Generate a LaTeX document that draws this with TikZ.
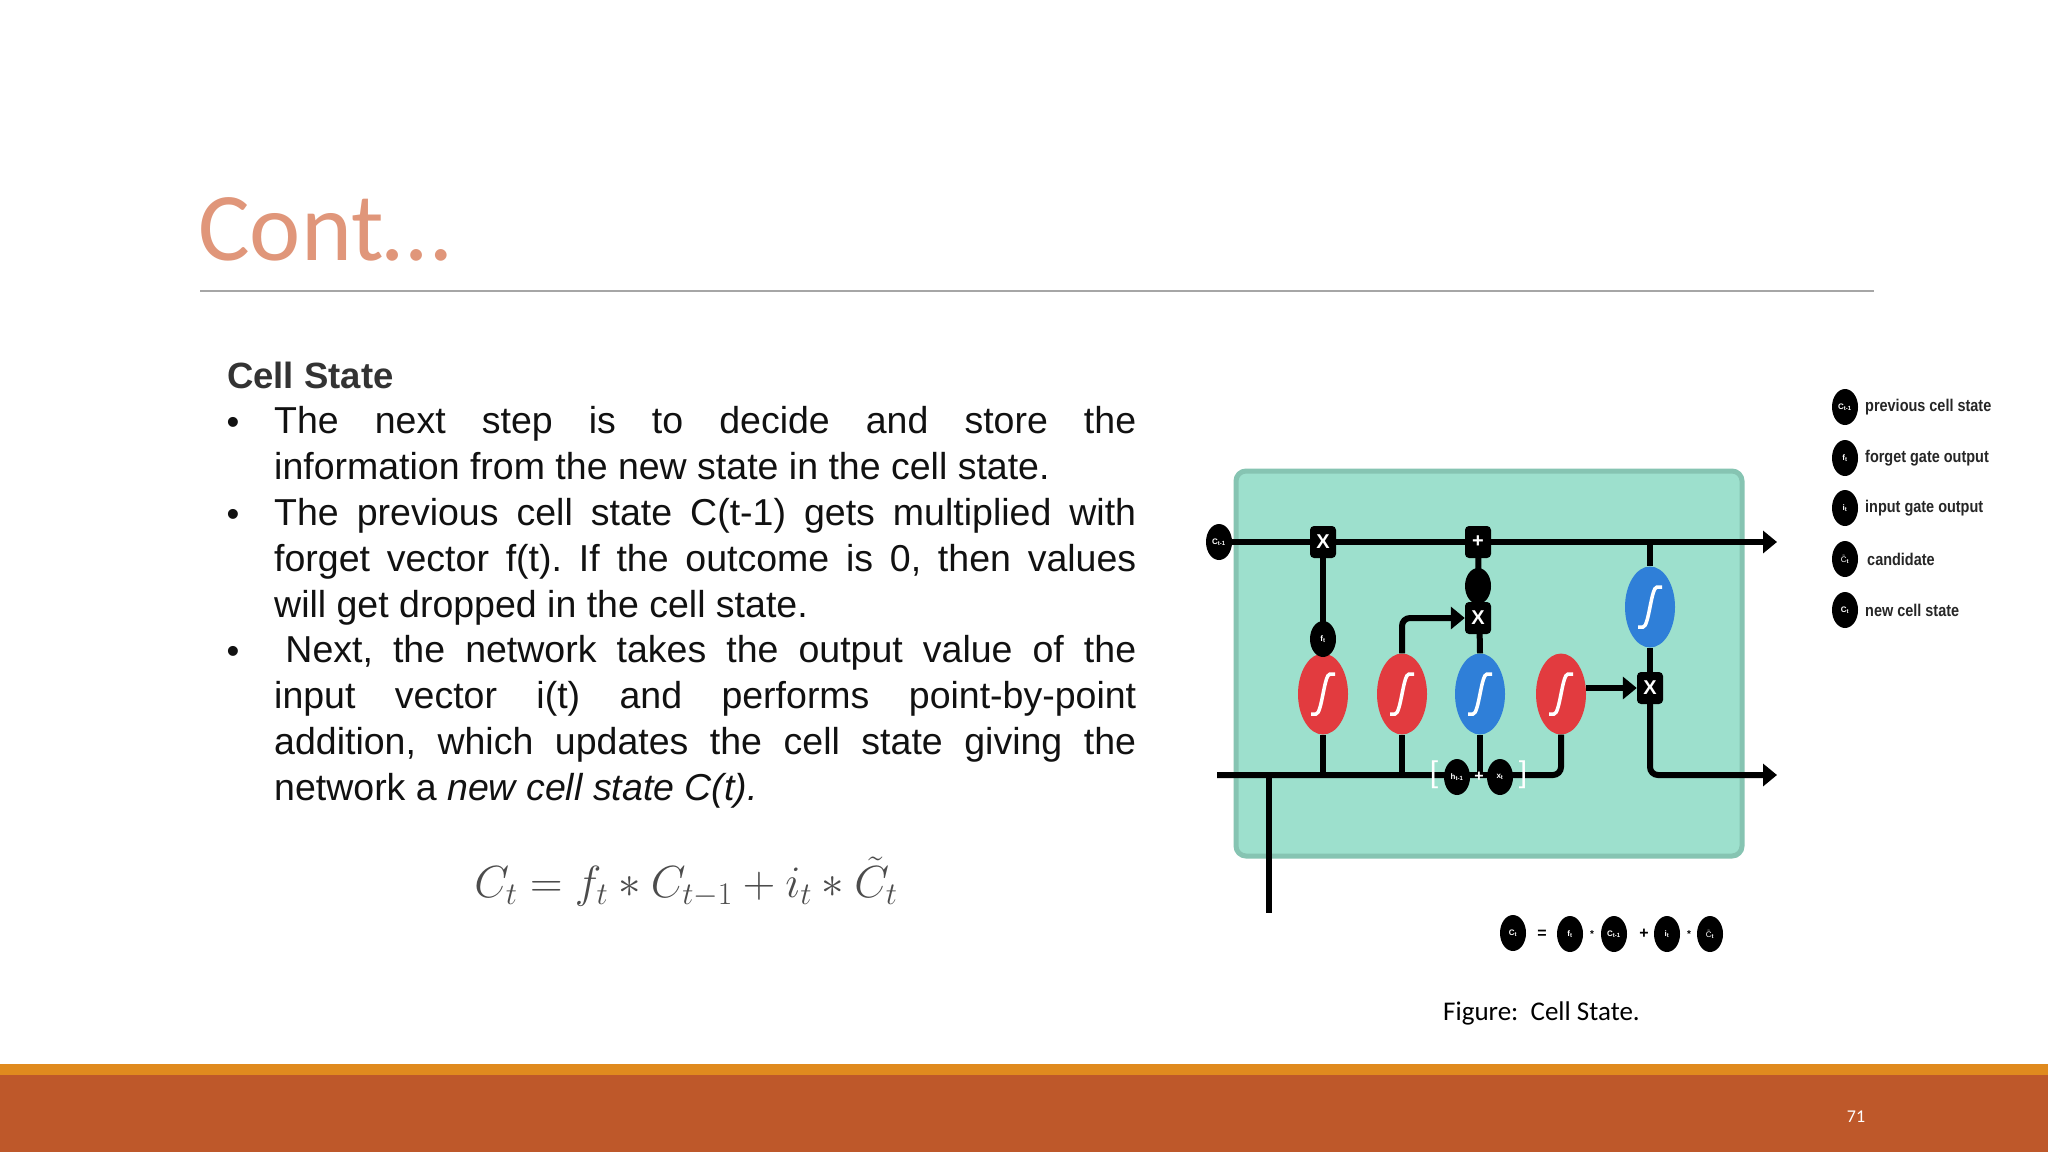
\documentclass[tikz,border=0pt]{standalone}
\usepackage{fix-cm}
\usepackage{fontspec}
\setmainfont{Liberation Sans}
\newfontfamily\calib{Carlito}
\newfontfamily\narr[FakeStretch=0.85]{Liberation Sans}
\usetikzlibrary{shapes.geometric,arrows.meta,calc}
\definecolor{titlec}{HTML}{E0967A}
\definecolor{barA}{HTML}{E08A1E}
\definecolor{barB}{HTML}{BE582A}
\definecolor{cellg}{HTML}{9DE0CD}
\definecolor{cellb}{HTML}{86C4B2}
\definecolor{sred}{HTML}{E23B3F}
\definecolor{sblue}{HTML}{2F7FD8}
\definecolor{txt}{HTML}{111111}
\frenchspacing
\newcommand{\nohy}{\hyphenpenalty=10000\relax\exhyphenpenalty=10000\relax}
\tikzset{
 body/.style={inner sep=0pt,anchor=north west,text width=862pt,align=justify,font=\fontsize{37.5}{46}\selectfont\nohy,text=txt},
 bul/.style={inner sep=0pt,anchor=base,font=\fontsize{36.5}{46}\selectfont,text=txt},
 wire/.style={line width=6pt,black},
 warr/.style={wire,-{Triangle[length=14pt,width=22pt]}},
 sigm/.style={ellipse,minimum width=50pt,minimum height=81pt,inner sep=0pt},
 gate/.style={fill=black,rounded corners=4pt,minimum width=26pt,minimum height=32pt,inner sep=0pt,text=white,font=\bfseries\fontsize{20}{20}\selectfont},
 bub/.style={ellipse,fill=black,minimum width=26pt,minimum height=36pt,inner sep=0pt,text=white,font=\bfseries\fontsize{8}{8}\selectfont},
 leg/.style={anchor=west,inner sep=0pt,font=\narr\bfseries\fontsize{17}{17}\selectfont,text=black!85},
}
\newcommand{\sigcurve}[1]{\draw[white,line width=3.5pt] ($(#1)+(-12,20)$) -- ($(#1)+(-7,20)$) .. controls ($(#1)+(-1,20)$) and ($(#1)+(1,-20)$) .. ($(#1)+(7,-20)$) -- ($(#1)+(12,-20)$);}
\begin{document}
\begin{tikzpicture}[x=1pt,y=-1pt]
\useasboundingbox (0,0) rectangle (2048,1152);
\fill[white] (0,0) rectangle (2048,1152);
% title
\node[anchor=base west,inner sep=0pt,text=titlec,font=\calib\fontsize{97}{97}\selectfont] (title) at (198,260) {Cont…};
\draw[gray!70,line width=1.5pt] (200,291) -- (1874,291);
% bars
\fill[barA] (0,1064) rectangle (2048,1075);
\fill[barB] (0,1075) rectangle (2048,1152);
\node[anchor=base,inner sep=0pt,text=white,font=\calib\fontsize{18}{18}\selectfont] (pg) at (1856,1122) {71};
% text
\node[anchor=base west,inner sep=0pt,font=\bfseries\fontsize{36.5}{46}\selectfont,text=black!80] (cs) at (227,388) {Cell State};
\node[bul] (b1) at (233,434) {•};
\node[body] (p1) at (274,406) {The next step is to decide and store the\linebreak information from the new state in the cell state.};
\node[bul] (b2) at (233,526) {•};
\node[body] (p2) at (274,498) {The previous cell state C(t-1) gets multiplied with\linebreak forget vector f(t). If the outcome is 0, then values\linebreak will get dropped in the cell state.};
\node[bul] (b3) at (233,663) {•};
\node[body] (p3) at (274,635) {\hspace{0.3em}Next, the network takes the output value of the\linebreak input vector i(t) and performs point-by-point\linebreak addition, which updates the cell state giving the\linebreak network a \textit{new cell state C(t).}};
\node[inner sep=0pt,text=black!70,font=\fontsize{45}{50}\selectfont] (eq) at (686,882) {$C_t = f_t * C_{t-1} + i_t * \tilde{C}_t$};
% diagram box
\draw[cellb,fill=cellg,line width=5pt,rounded corners=10pt] (1236,471) rectangle (1742,856);
\coordinate (tl) at (1217,542);
\coordinate (tr) at (1777,542);
\node[sigm,fill=sred] (s1) at (1323,694) {};
\node[sigm,fill=sred] (s2) at (1402,694) {};
\node[sigm,fill=sblue] (s3) at (1480,694) {};
\node[sigm,fill=sred] (s4) at (1561,694) {};
\node[sigm,fill=sblue] (s5) at (1650,607) {};
% wires
\draw[warr] (tl) -- (tr);
\draw[wire] (1269,775) -- (1269,913);
\draw[wire,rounded corners=8pt] (1217,775) -- (1561,775) -- (s4.south);
\draw[wire] (s1.south) -- (1323,775);
\draw[wire] (s2.south) -- (1402,775);
\draw[wire] (s3.south) -- (1480,775);
\draw[wire] (1323,542) -- (s1.north);
\draw[wire] (1478,542) -- (s3.north);
\draw[wire] (1650,542) -- (s5.north);
\node[gate] (xm) at (1478,618) {X};
\draw[warr,rounded corners=8pt] (s2.north) -- (1402,618) -- (xm.west);
\node[gate] (xr) at (1650,688) {X};
\draw[warr] (s4.east |- xr) -- (xr.west);
\draw[wire] (s5.south) -- (xr.north);
\draw[warr,rounded corners=8pt] (xr.south) -- (1650,775) -- (1777,775);
\node[gate] (x1) at (1323,542) {X};
\node[gate] (pl) at (1478,542) {+};
\node[bub] (ct1) at (1219,542) {C\textsubscript{t-1}};
\node[bub] (ft) at (1323,639) {f\textsubscript{t}};
\node[bub] (ob) at (1478,586) {};
\node[bub] (ht) at (1457,777) {h\textsubscript{t-1}};
\node[bub] (xt) at (1500,777) {x\textsubscript{t}};
\node[text=white,font=\fontsize{30}{30}\selectfont,inner sep=0pt] (lb) at (1434,775) {[};
\node[text=white,font=\fontsize{30}{30}\selectfont,inner sep=0pt] (rb) at (1523,775) {]};
\node[text=white,font=\bfseries\fontsize{16}{16}\selectfont,inner sep=0pt] (hp) at (1479,777) {+};
\foreach \n in {s1,s2,s3,s4,s5} {\sigcurve{\n}}
% equation row
\node[bub] (e1) at (1513,933) {C\textsubscript{t}};
\node[font=\bfseries\fontsize{16}{16}\selectfont,inner sep=0pt] (e2) at (1542,934) {=};
\node[bub] (e3) at (1570,934) {f\textsubscript{t}};
\node[font=\bfseries\fontsize{10}{10}\selectfont,inner sep=0pt] (e4) at (1592,934) {*};
\node[bub] (e5) at (1614,934) {C\textsubscript{t-1}};
\node[font=\bfseries\fontsize{16}{16}\selectfont,inner sep=0pt] (e6) at (1644,934) {+};
\node[bub] (e7) at (1667,934) {i\textsubscript{t}};
\node[font=\bfseries\fontsize{10}{10}\selectfont,inner sep=0pt] (e8) at (1689,934) {*};
\node[bub] (e9) at (1710,934) {$\tilde{\mathrm{C}}$\textsubscript{t}};
% legend
\node[bub] (l1) at (1845,407) {C\textsubscript{t-1}};
\node[leg] (t1) at (1865,407) {previous cell state};
\node[bub] (l2) at (1845,458) {f\textsubscript{t}};
\node[leg] (t2) at (1865,458) {forget gate output};
\node[bub] (l3) at (1845,508) {i\textsubscript{t}};
\node[leg] (t3) at (1865,508) {input gate output};
\node[bub] (l4) at (1845,559) {$\tilde{\mathrm{C}}$\textsubscript{t}};
\node[leg] (t4) at (1867,559) {candidate};
\node[bub] (l5) at (1845,610) {C\textsubscript{t}};
\node[leg] (t5) at (1865,610) {new cell state};
\node[anchor=base west,inner sep=0pt,font=\calib\fontsize{27}{27}\selectfont] (cap) at (1443,1020) {Figure:\ \ Cell State.};
\end{tikzpicture}
\end{document}
